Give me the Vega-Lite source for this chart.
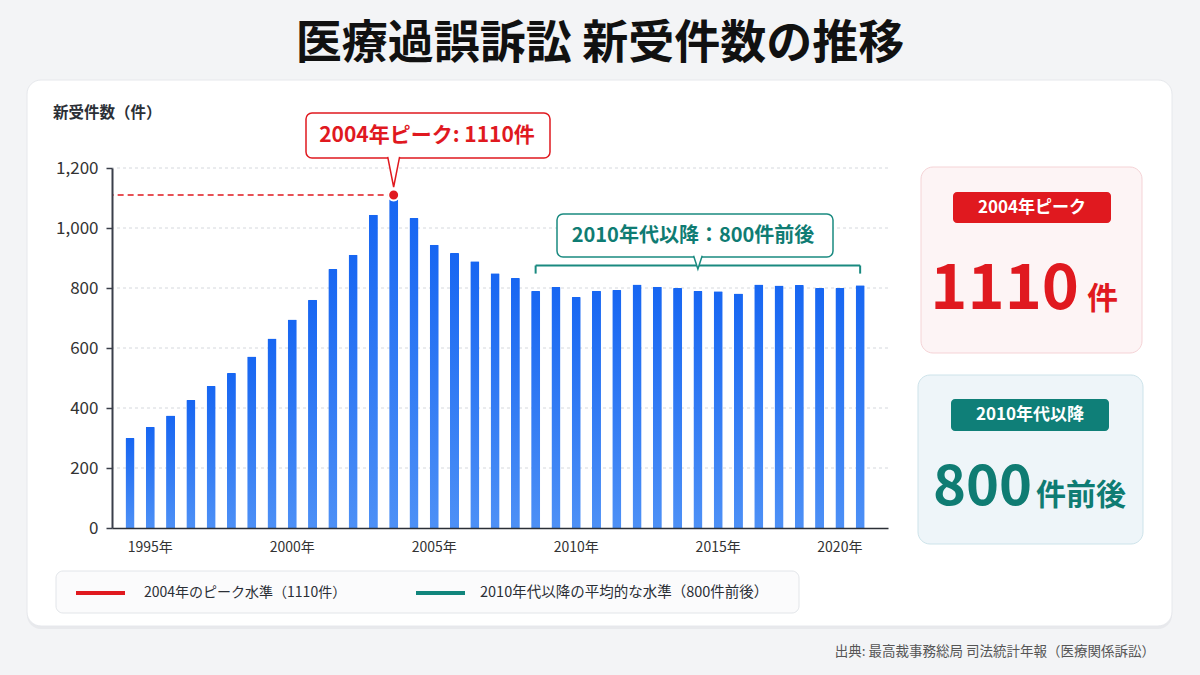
{
  "$schema": "https://vega.github.io/schema/vega-lite/v6.json",
  "width": 776,
  "height": 360,
  "autosize": {"type": "none"},
  "padding": {"left": 112, "top": 168, "right": 312, "bottom": 147},
  "background": "#f3f4f6",
  "config": {
    "font": "Noto Sans CJK JP",
    "view": {"stroke": null},
    "axis": {"labelFont": "Noto Sans CJK JP"}
  },
  "datasets": {
    "cases": [
      {"bar": 1, "cases": 300}, {"bar": 2, "cases": 337}, {"bar": 3, "cases": 375},
      {"bar": 4, "cases": 427}, {"bar": 5, "cases": 473}, {"bar": 6, "cases": 517},
      {"bar": 7, "cases": 572}, {"bar": 8, "cases": 632}, {"bar": 9, "cases": 695},
      {"bar": 10, "cases": 761}, {"bar": 11, "cases": 863}, {"bar": 12, "cases": 911},
      {"bar": 13, "cases": 1044}, {"bar": 14, "cases": 1110}, {"bar": 15, "cases": 1033},
      {"bar": 16, "cases": 944}, {"bar": 17, "cases": 917}, {"bar": 18, "cases": 889},
      {"bar": 19, "cases": 849}, {"bar": 20, "cases": 833}, {"bar": 21, "cases": 790},
      {"bar": 22, "cases": 803}, {"bar": 23, "cases": 770}, {"bar": 24, "cases": 791},
      {"bar": 25, "cases": 793}, {"bar": 26, "cases": 812}, {"bar": 27, "cases": 804},
      {"bar": 28, "cases": 800}, {"bar": 29, "cases": 790}, {"bar": 30, "cases": 789},
      {"bar": 31, "cases": 782}, {"bar": 32, "cases": 812}, {"bar": 33, "cases": 808},
      {"bar": 34, "cases": 810}, {"bar": 35, "cases": 800}, {"bar": 36, "cases": 800},
      {"bar": 37, "cases": 809}
    ]
  },
  "data": {"name": "cases"},
  "layer": [
    {"data": {"values": [{}]}, "mark": {"type": "rect", "x": -85, "x2": 1060, "y": -85, "y2": 461, "fill": "#e2e4e8", "cornerRadius": 14, "opacity": 0.7}},
    {"data": {"values": [{}]}, "mark": {"type": "rect", "x": -85, "x2": 1060, "y": -88, "y2": 458, "fill": "#ffffff", "stroke": "#e6e8ec", "strokeWidth": 1, "cornerRadius": 14}},
    {"data": {"values": [{}]}, "mark": {"type": "text", "x": 488, "y": -124, "text": "医療過誤訴訟 新受件数の推移", "fontSize": 46, "fontWeight": "bold", "color": "#111111", "align": "center", "baseline": "middle"}},
    {"data": {"values": [{}]}, "mark": {"type": "text", "x": -59, "y": -55, "text": "新受件数（件）", "fontSize": 15.5, "fontWeight": "bold", "color": "#2b2f36", "align": "left", "baseline": "middle"}},
    {"data": {"values": [{}]}, "mark": {"type": "text", "x": 1043, "y": 484, "text": "出典: 最高裁事務総局 司法統計年報（医療関係訴訟）", "fontSize": 13.5, "color": "#555555", "align": "right", "baseline": "middle"}},
    {"data": {"values": [{}]}, "mark": {"type": "rect", "x": -56, "x2": 687, "y": 403, "y2": 445, "fill": "#fbfbfc", "stroke": "#e2e5e9", "strokeWidth": 1, "cornerRadius": 7}},
    {"data": {"values": [{}]}, "mark": {"type": "rule", "color": "#e0191f", "strokeWidth": 4}, "encoding": {"x": {"value": -36}, "x2": {"value": 13}, "y": {"value": 425}}},
    {"data": {"values": [{}]}, "mark": {"type": "text", "x": 32, "y": 425, "text": "2004年のピーク水準（1110件）", "fontSize": 14, "color": "#2b2f36", "align": "left", "baseline": "middle"}},
    {"data": {"values": [{}]}, "mark": {"type": "rule", "color": "#11857c", "strokeWidth": 4}, "encoding": {"x": {"value": 304}, "x2": {"value": 353}, "y": {"value": 425}}},
    {"data": {"values": [{}]}, "mark": {"type": "text", "x": 368, "y": 425, "text": "2010年代以降の平均的な水準（800件前後）", "fontSize": 14.5, "color": "#2b2f36", "align": "left", "baseline": "middle"}},
    {"data": {"values": [{}]}, "mark": {"type": "rect", "x": 809, "x2": 1030, "y": -1, "y2": 185, "fill": "#fdf4f5", "stroke": "#f5d3d6", "strokeWidth": 1, "cornerRadius": 12}},
    {"data": {"values": [{}]}, "mark": {"type": "rect", "x": 841, "x2": 999, "y": 24, "y2": 55, "fill": "#e0191f", "cornerRadius": 4}},
    {"data": {"values": [{}]}, "mark": {"type": "text", "x": 920, "y": 40, "text": "2004年ピーク", "fontSize": 17, "fontWeight": "bold", "color": "#ffffff", "align": "center", "baseline": "middle"}},
    {"data": {"values": [{}]}, "mark": {"type": "text", "x": 967, "y": 141, "text": "1110", "fontSize": 63, "fontWeight": "bold", "color": "#e0191f", "align": "right", "baseline": "alphabetic"}},
    {"data": {"values": [{}]}, "mark": {"type": "text", "x": 975, "y": 141, "text": "件", "fontSize": 31, "fontWeight": "bold", "color": "#e0191f", "align": "left", "baseline": "alphabetic"}},
    {"data": {"values": [{}]}, "mark": {"type": "rect", "x": 806, "x2": 1031, "y": 207, "y2": 376, "fill": "#eef5f9", "stroke": "#cde3ea", "strokeWidth": 1, "cornerRadius": 12}},
    {"data": {"values": [{}]}, "mark": {"type": "rect", "x": 839, "x2": 997, "y": 231, "y2": 263, "fill": "#0f7f78", "cornerRadius": 4}},
    {"data": {"values": [{}]}, "mark": {"type": "text", "x": 918, "y": 247, "text": "2010年代以降", "fontSize": 17, "fontWeight": "bold", "color": "#ffffff", "align": "center", "baseline": "middle"}},
    {"data": {"values": [{}]}, "mark": {"type": "text", "x": 920, "y": 337, "text": "800", "fontSize": 56, "fontWeight": "bold", "color": "#0f7c73", "align": "right", "baseline": "alphabetic"}},
    {"data": {"values": [{}]}, "mark": {"type": "text", "x": 924, "y": 337, "text": "件前後", "fontSize": 30, "fontWeight": "bold", "color": "#0f7c73", "align": "left", "baseline": "alphabetic"}},
    {
      "data": {"values": [{"grid": 200}, {"grid": 400}, {"grid": 600}, {"grid": 800}, {"grid": 1000}, {"grid": 1200}]},
      "mark": {"type": "rule", "color": "#d5d8dd", "strokeWidth": 1, "strokeDash": [3, 3]},
      "encoding": {"y": {"field": "grid", "type": "quantitative", "axis": {"title": null}}}
    },
    {
      "mark": {
        "type": "bar",
        "cornerRadiusTopLeft": 1,
        "cornerRadiusTopRight": 1,
        "color": {"gradient": "linear", "x1": 0, "y1": 0, "x2": 0, "y2": 1, "stops": [{"offset": 0, "color": "#1766f2"}, {"offset": 1, "color": "#4d90f6"}]}
      },
      "encoding": {
        "x": {
          "field": "bar", "type": "ordinal",
          "scale": {"paddingInner": 0.556, "paddingOuter": 0.908, "align": 0.366, "round": false},
          "axis": {
            "title": null, "values": [2, 9, 16, 23, 30, 36],
            "labelExpr": "datum.value == 2 ? '1995年' : datum.value == 9 ? '2000年' : datum.value == 16 ? '2005年' : datum.value == 23 ? '2010年' : datum.value == 30 ? '2015年' : '2020年'",
            "labelAngle": 0, "ticks": false, "domainColor": "#2b2f36", "domainWidth": 1.5,
            "labelFontSize": 14, "labelColor": "#333333", "labelPadding": 12, "grid": false, "zindex": 1
          }
        },
        "y": {
          "field": "cases", "type": "quantitative",
          "scale": {"domain": [0, 1200], "nice": false},
          "axis": {
            "title": null, "values": [0, 200, 400, 600, 800, 1000, 1200], "format": ",d",
            "labelFontSize": 17, "labelColor": "#333333", "tickSize": 6, "tickColor": "#3a3f4a", "tickWidth": 1.5,
            "domainColor": "#3a3f4a", "domainWidth": 2, "labelPadding": 8, "grid": false, "zindex": 1
          }
        }
      }
    },
    {
      "transform": [{"filter": "datum.bar == 14"}],
      "mark": {"type": "rule", "color": "#e0191f", "strokeWidth": 1.5, "strokeDash": [6, 4]},
      "encoding": {
        "x": {"field": "bar", "type": "ordinal", "bandPosition": 0.5},
        "x2": {"value": 0},
        "y": {"field": "cases", "type": "quantitative"}
      }
    },
    {
      "transform": [{"filter": "datum.bar == 14"}],
      "mark": {"type": "point", "filled": true, "fill": "#e0191f", "stroke": "#ffffff", "strokeWidth": 2, "size": 120, "opacity": 1},
      "encoding": {
        "x": {"field": "bar", "type": "ordinal", "bandPosition": 0.5},
        "y": {"field": "cases", "type": "quantitative"}
      }
    },
    {
      "data": {"values": [{}]},
      "mark": {"type": "rule", "color": "#1a8a80", "strokeWidth": 2},
      "encoding": {
        "x": {"datum": 21, "type": "ordinal", "bandPosition": 0.5},
        "x2": {"datum": 37, "bandPosition": 0.5},
        "y": {"datum": 875, "type": "quantitative"}
      }
    },
    {
      "data": {"values": [{"end": 21}, {"end": 37}]},
      "mark": {"type": "rule", "color": "#1a8a80", "strokeWidth": 2},
      "encoding": {
        "x": {"field": "end", "type": "ordinal", "bandPosition": 0.5},
        "y": {"datum": 875, "type": "quantitative"},
        "y2": {"datum": 848}
      }
    },
    {"data": {"values": [{}]}, "mark": {"type": "rect", "x": 194, "x2": 438, "y": -55, "y2": -10, "fill": "#ffffff", "stroke": "#e0191f", "strokeWidth": 1.5, "cornerRadius": 6}},
    {
      "data": {"values": [{}]},
      "mark": {"type": "point", "shape": "M-0.41,-1.08L0,1L0.41,-1.08", "size": 841, "filled": true, "fill": "#ffffff", "stroke": "#e0191f", "strokeWidth": 1.5, "opacity": 1, "y": 4.5},
      "encoding": {"x": {"datum": 14, "type": "ordinal", "bandPosition": 0.5}}
    },
    {"data": {"values": [{}]}, "mark": {"type": "text", "x": 315, "y": -32, "text": "2004年ピーク: 1110件", "fontSize": 21, "fontWeight": "bold", "color": "#e0191f", "align": "center", "baseline": "middle"}},
    {"data": {"values": [{}]}, "mark": {"type": "rect", "x": 445, "x2": 721, "y": 46, "y2": 89, "fill": "#ffffff", "stroke": "#1a8a80", "strokeWidth": 1.5, "cornerRadius": 6}},
    {
      "data": {"values": [{}]},
      "mark": {"type": "point", "shape": "M-0.72,-1.2L0,1L0.72,-1.2", "size": 144, "filled": true, "fill": "#ffffff", "stroke": "#1a8a80", "strokeWidth": 1.5, "opacity": 1, "y": 95},
      "encoding": {"x": {"datum": 29, "type": "ordinal", "bandPosition": 0.5}}
    },
    {"data": {"values": [{}]}, "mark": {"type": "text", "x": 581, "y": 68, "text": "2010年代以降：800件前後", "fontSize": 20, "fontWeight": "bold", "color": "#0f7c73", "align": "center", "baseline": "middle"}}
  ]
}
